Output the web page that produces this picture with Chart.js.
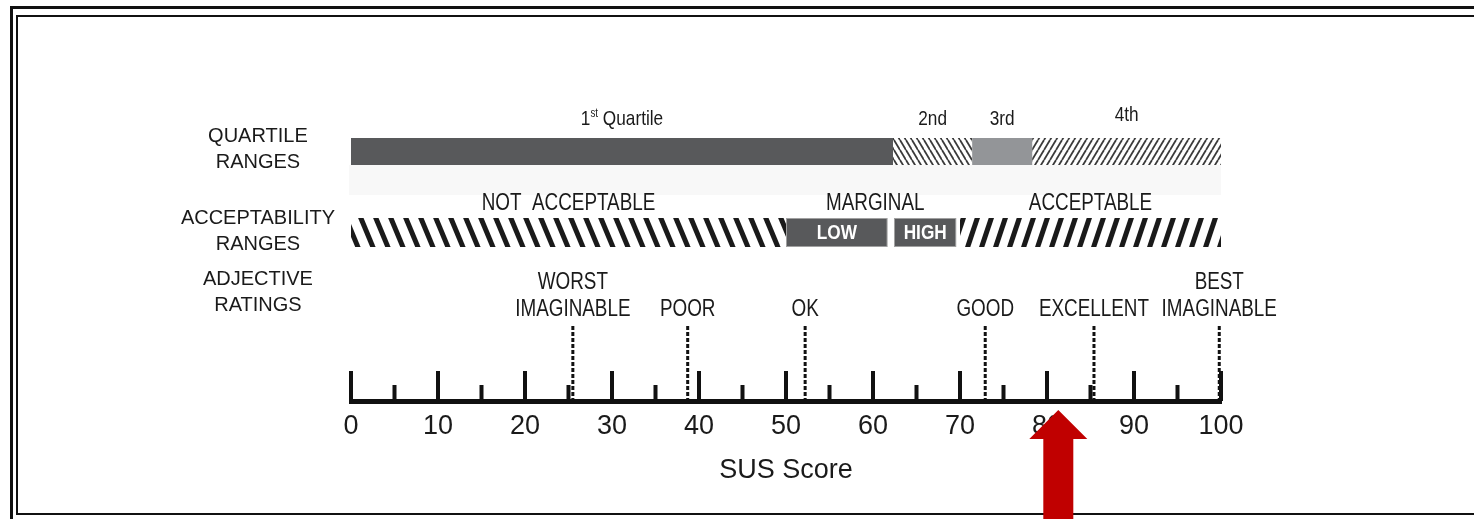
<!DOCTYPE html>
<html>
<head>
<meta charset="utf-8">
<script src="https://cdn.jsdelivr.net/npm/chart.js@4.4.0/dist/chart.umd.min.js"></script>
<style>
html,body{margin:0;padding:0;background:#fff}
#wrap{width:1474px;height:519px}
</style>
</head>
<body>
<div id="wrap"><canvas id="c"></canvas></div>
<script>
var FONT = "'Liberation Sans',Arial,sans-serif";
var SQUEEZE = 0.82; // no narrow face installed, so squeeze the drawn labels

// quartile ranges (SUS score)
var quartileNames = ['1st Quartile', '2nd', '3rd', '4th'];
var quartileFrom = [0, 62.3, 71.4, 78.3];
var quartileTo = [62.3, 71.4, 78.3, 100];
// acceptability ranges
var acceptNames = ['NOT  ACCEPTABLE', 'LOW', 'HIGH', 'ACCEPTABLE'];
var acceptFrom = [0, 50, 62.4, 70];
var acceptTo = [50, 61.7, 69.6, 100];
var marginalName = 'MARGINAL';
// adjective ratings
var adjNames = [['WORST', 'IMAGINABLE'], ['POOR'], ['OK'], ['GOOD'], ['EXCELLENT'], ['BEST', 'IMAGINABLE']];
var adjScores = [25.5, 38.7, 52.2, 72.9, 85.4, 99.8];
var rowNames = [['QUARTILE', 'RANGES'], ['ACCEPTABILITY', 'RANGES'], ['ADJECTIVE', 'RATINGS']];
var xMax = 100, xStep = 10, xMinor = 5;
var axisTitle = 'SUS Score';
var arrowScore = 81.3;

// layout of the rows on the hidden y scale (0 = top of plot)
var ROW_Q = 50.5, ROW_A = 131.5, ROW_LABELS = [48, 130, 191], ADJ_TOP = 225, ADJ_BOT = 299;

var canvas = document.getElementById('c');
var ctx = canvas.getContext('2d');

function hatch(period, h, lw, color, dir) {
    var c = document.createElement('canvas');
    c.width = period; c.height = h;
    var g = c.getContext('2d');
    g.strokeStyle = color; g.lineWidth = lw;
    for (var k = -3; k <= 3; k++) {
        var x0 = k * period;
        g.beginPath();
        if (dir > 0) { g.moveTo(x0, h); g.lineTo(x0 + period, 0); }
        else { g.moveTo(x0, 0); g.lineTo(x0 + period, h); }
        g.stroke();
    }
    return ctx.createPattern(c, 'repeat');
}

var thinBack = hatch(6, 10, 1.8, '#3a3a3a', -1);
var thinFwd = hatch(6, 10, 1.8, '#3a3a3a', 1);
var thickBack = hatch(15, 36, 5, '#1a1a1a', -1);
var thickFwd = hatch(14, 42, 5, '#1a1a1a', 1);

var qData = [], aData = [];
for (var i = 0; i < quartileNames.length; i++) qData.push({x: [quartileFrom[i], quartileTo[i]], y: ROW_Q});
for (var i = 0; i < acceptNames.length; i++) aData.push({x: [acceptFrom[i], acceptTo[i]], y: ROW_A});

var datasets = [
    {label: 'quartile', type: 'bar', indexAxis: 'y', grouped: false, data: qData, maxBarThickness: 27,
     backgroundColor: ['#58595b', thinBack, '#939598', thinFwd], borderWidth: 0},
    {label: 'accept', type: 'bar', indexAxis: 'y', grouped: false, data: aData, maxBarThickness: 29,
     backgroundColor: [thickBack, '#58595b', '#58595b', thickFwd],
     borderColor: ['rgba(0,0,0,0)', '#a0a0a0', '#a0a0a0', 'rgba(0,0,0,0)'], borderWidth: [0, 1, 1, 0], borderSkipped: false}
];
for (var i = 0; i < adjScores.length; i++) {
    datasets.push({label: 'adj' + i, type: 'line', data: [{x: adjScores[i], y: ADJ_TOP}, {x: adjScores[i], y: ADJ_BOT}],
        borderColor: '#111', borderWidth: 3, borderDash: [4, 2], pointRadius: 0, fill: false});
}

function narrow(c, text, x, y, font, align) {
    c.save();
    c.font = font;
    c.translate(x, y);
    c.scale(SQUEEZE, 1);
    c.textAlign = align || 'center';
    c.fillText(text, 0, 0);
    c.restore();
}
function narrowWidth(c, text, font) {
    c.font = font;
    return c.measureText(text).width * SQUEEZE;
}

var decor = {
    id: 'decor',
    beforeDraw: function(chart) {
        var c = chart.ctx;
        c.save();
        c.fillStyle = '#fff';
        c.fillRect(0, 0, chart.width, chart.height);
        c.strokeStyle = '#111';
        c.lineWidth = 3;
        c.beginPath(); c.moveTo(11.5, 519); c.lineTo(11.5, 7.5); c.lineTo(chart.width, 7.5); c.stroke();
        c.lineWidth = 2;
        c.beginPath(); c.moveTo(chart.width, 16); c.lineTo(17, 16); c.lineTo(17, 514); c.lineTo(chart.width, 514); c.stroke();
        c.restore();
    },
    beforeDatasetsDraw: function(chart) {
        // faint band below the quartile bar
        var c = chart.ctx, qm = chart.getDatasetMeta(0).data;
        var xs = chart.scales.x, y0 = qm[0].y + qm[0].height / 2;
        c.save();
        c.fillStyle = '#f8f8f8';
        c.fillRect(xs.getPixelForValue(0) - 2, y0, xs.getPixelForValue(xMax) - xs.getPixelForValue(0) + 2, 30);
        c.restore();
    },
    afterDatasetsDraw: function(chart) {
        var c = chart.ctx, xs = chart.scales.x, base = chart.chartArea.bottom;
        c.save();
        c.fillStyle = '#111';
        for (var v = 0; v <= xMax; v += xMinor) {
            var px = xs.getPixelForValue(v), len = (v % xStep === 0) ? 30 : 16;
            c.fillRect(px - 2, base - len, 4, len);
        }
        c.textBaseline = 'alphabetic';
        c.fillStyle = '#1a1a1a';
        var f20 = '21px ' + FONT, f11 = '12px ' + FONT, f22 = '23px ' + FONT;
        // quartile labels
        var qm = chart.getDatasetMeta(0).data;
        for (var i = 0; i < qm.length; i++) {
            var b = qm[i], top = b.y - b.height / 2 - 13, cx = (b.x + b.base) / 2;
            var name = quartileNames[i];
            if (i === 0) {
                var rest = name.slice(3);
                var w1 = narrowWidth(c, '1', f20), w2 = narrowWidth(c, 'st', f11), w3 = narrowWidth(c, rest, f20);
                var sx = cx - (w1 + w2 + w3) / 2;
                narrow(c, '1', sx, top, f20, 'left');
                narrow(c, 'st', sx + w1, top - 8, f11, 'left');
                narrow(c, rest, sx + w1 + w2, top, f20, 'left');
            } else {
                narrow(c, name, cx, top - (i === 3 ? 4 : 0), f20);
            }
        }
        // acceptability labels
        var am = chart.getDatasetMeta(1).data;
        var atop = am[0].y - am[0].height / 2 - 8;
        narrow(c, acceptNames[0], (am[0].x + am[0].base) / 2, atop, f22);
        narrow(c, acceptNames[3], (am[3].x + am[3].base) / 2, atop, f22);
        narrow(c, marginalName, (am[1].base + am[2].x) / 2 + 4, atop, f22);
        c.fillStyle = '#fff';
        c.textBaseline = 'middle';
        narrow(c, acceptNames[1], (am[1].x + am[1].base) / 2, am[1].y + 1, 'bold 21px ' + FONT);
        narrow(c, acceptNames[2], (am[2].x + am[2].base) / 2, am[2].y + 1, 'bold 21px ' + FONT);
        // adjective labels
        c.fillStyle = '#1a1a1a';
        c.textBaseline = 'alphabetic';
        for (var i = 0; i < adjScores.length; i++) {
            var p = chart.getDatasetMeta(2 + i).data[0];
            var lines = adjNames[i];
            for (var j = 0; j < lines.length; j++) {
                narrow(c, lines[j], p.x, p.y - 10 - (lines.length - 1 - j) * 27, f22);
            }
        }
        c.restore();
    },
    afterDraw: function(chart) {
        var c = chart.ctx, px = chart.scales.x.getPixelForValue(arrowScore);
        c.save();
        c.fillStyle = '#c00000';
        c.beginPath();
        c.moveTo(px, 410);
        c.lineTo(px + 29, 439);
        c.lineTo(px + 15, 439);
        c.lineTo(px + 15, chart.height);
        c.lineTo(px - 15, chart.height);
        c.lineTo(px - 15, 439);
        c.lineTo(px - 29, 439);
        c.closePath();
        c.fill();
        c.restore();
    }
};

new Chart(ctx, {
    type: 'bar',
    data: {datasets: datasets},
    options: {
        responsive: true,
        maintainAspectRatio: false,
        animation: false,
        layout: {padding: {left: 151, top: 101, right: 253, bottom: 0}},
        plugins: {legend: {display: false}, tooltip: {enabled: false}},
        scales: {
            x: {
                type: 'linear', position: 'bottom', min: 0, max: xMax, offset: false,
                grid: {display: false, drawTicks: false},
                border: {display: true, color: '#111', width: 5},
                ticks: {stepSize: xStep, autoSkip: false, maxRotation: 0, padding: 9,
                        color: '#1a1a1a', font: {family: FONT, size: 27}},
                title: {display: true, text: axisTitle, color: '#1a1a1a', font: {family: FONT, size: 27},
                        padding: {top: 0, bottom: 32}},
                afterFit: function(s) { s.height = 118; }
            },
            y: {
                type: 'linear', reverse: true, min: 0, max: 300, offset: false,
                grid: {display: false, drawTicks: false},
                border: {display: false},
                afterBuildTicks: function(s) { s.ticks = ROW_LABELS.map(function(v) { return {value: v}; }); },
                ticks: {autoSkip: false, crossAlign: 'center', padding: 16, color: '#1a1a1a',
                        font: {family: FONT, size: 20, lineHeight: 1.3},
                        callback: function(v, i) { return rowNames[i]; }},
                afterFit: function(s) { s.width = 200; }
            }
        }
    },
    plugins: [decor]
});
</script>
</body>
</html>
